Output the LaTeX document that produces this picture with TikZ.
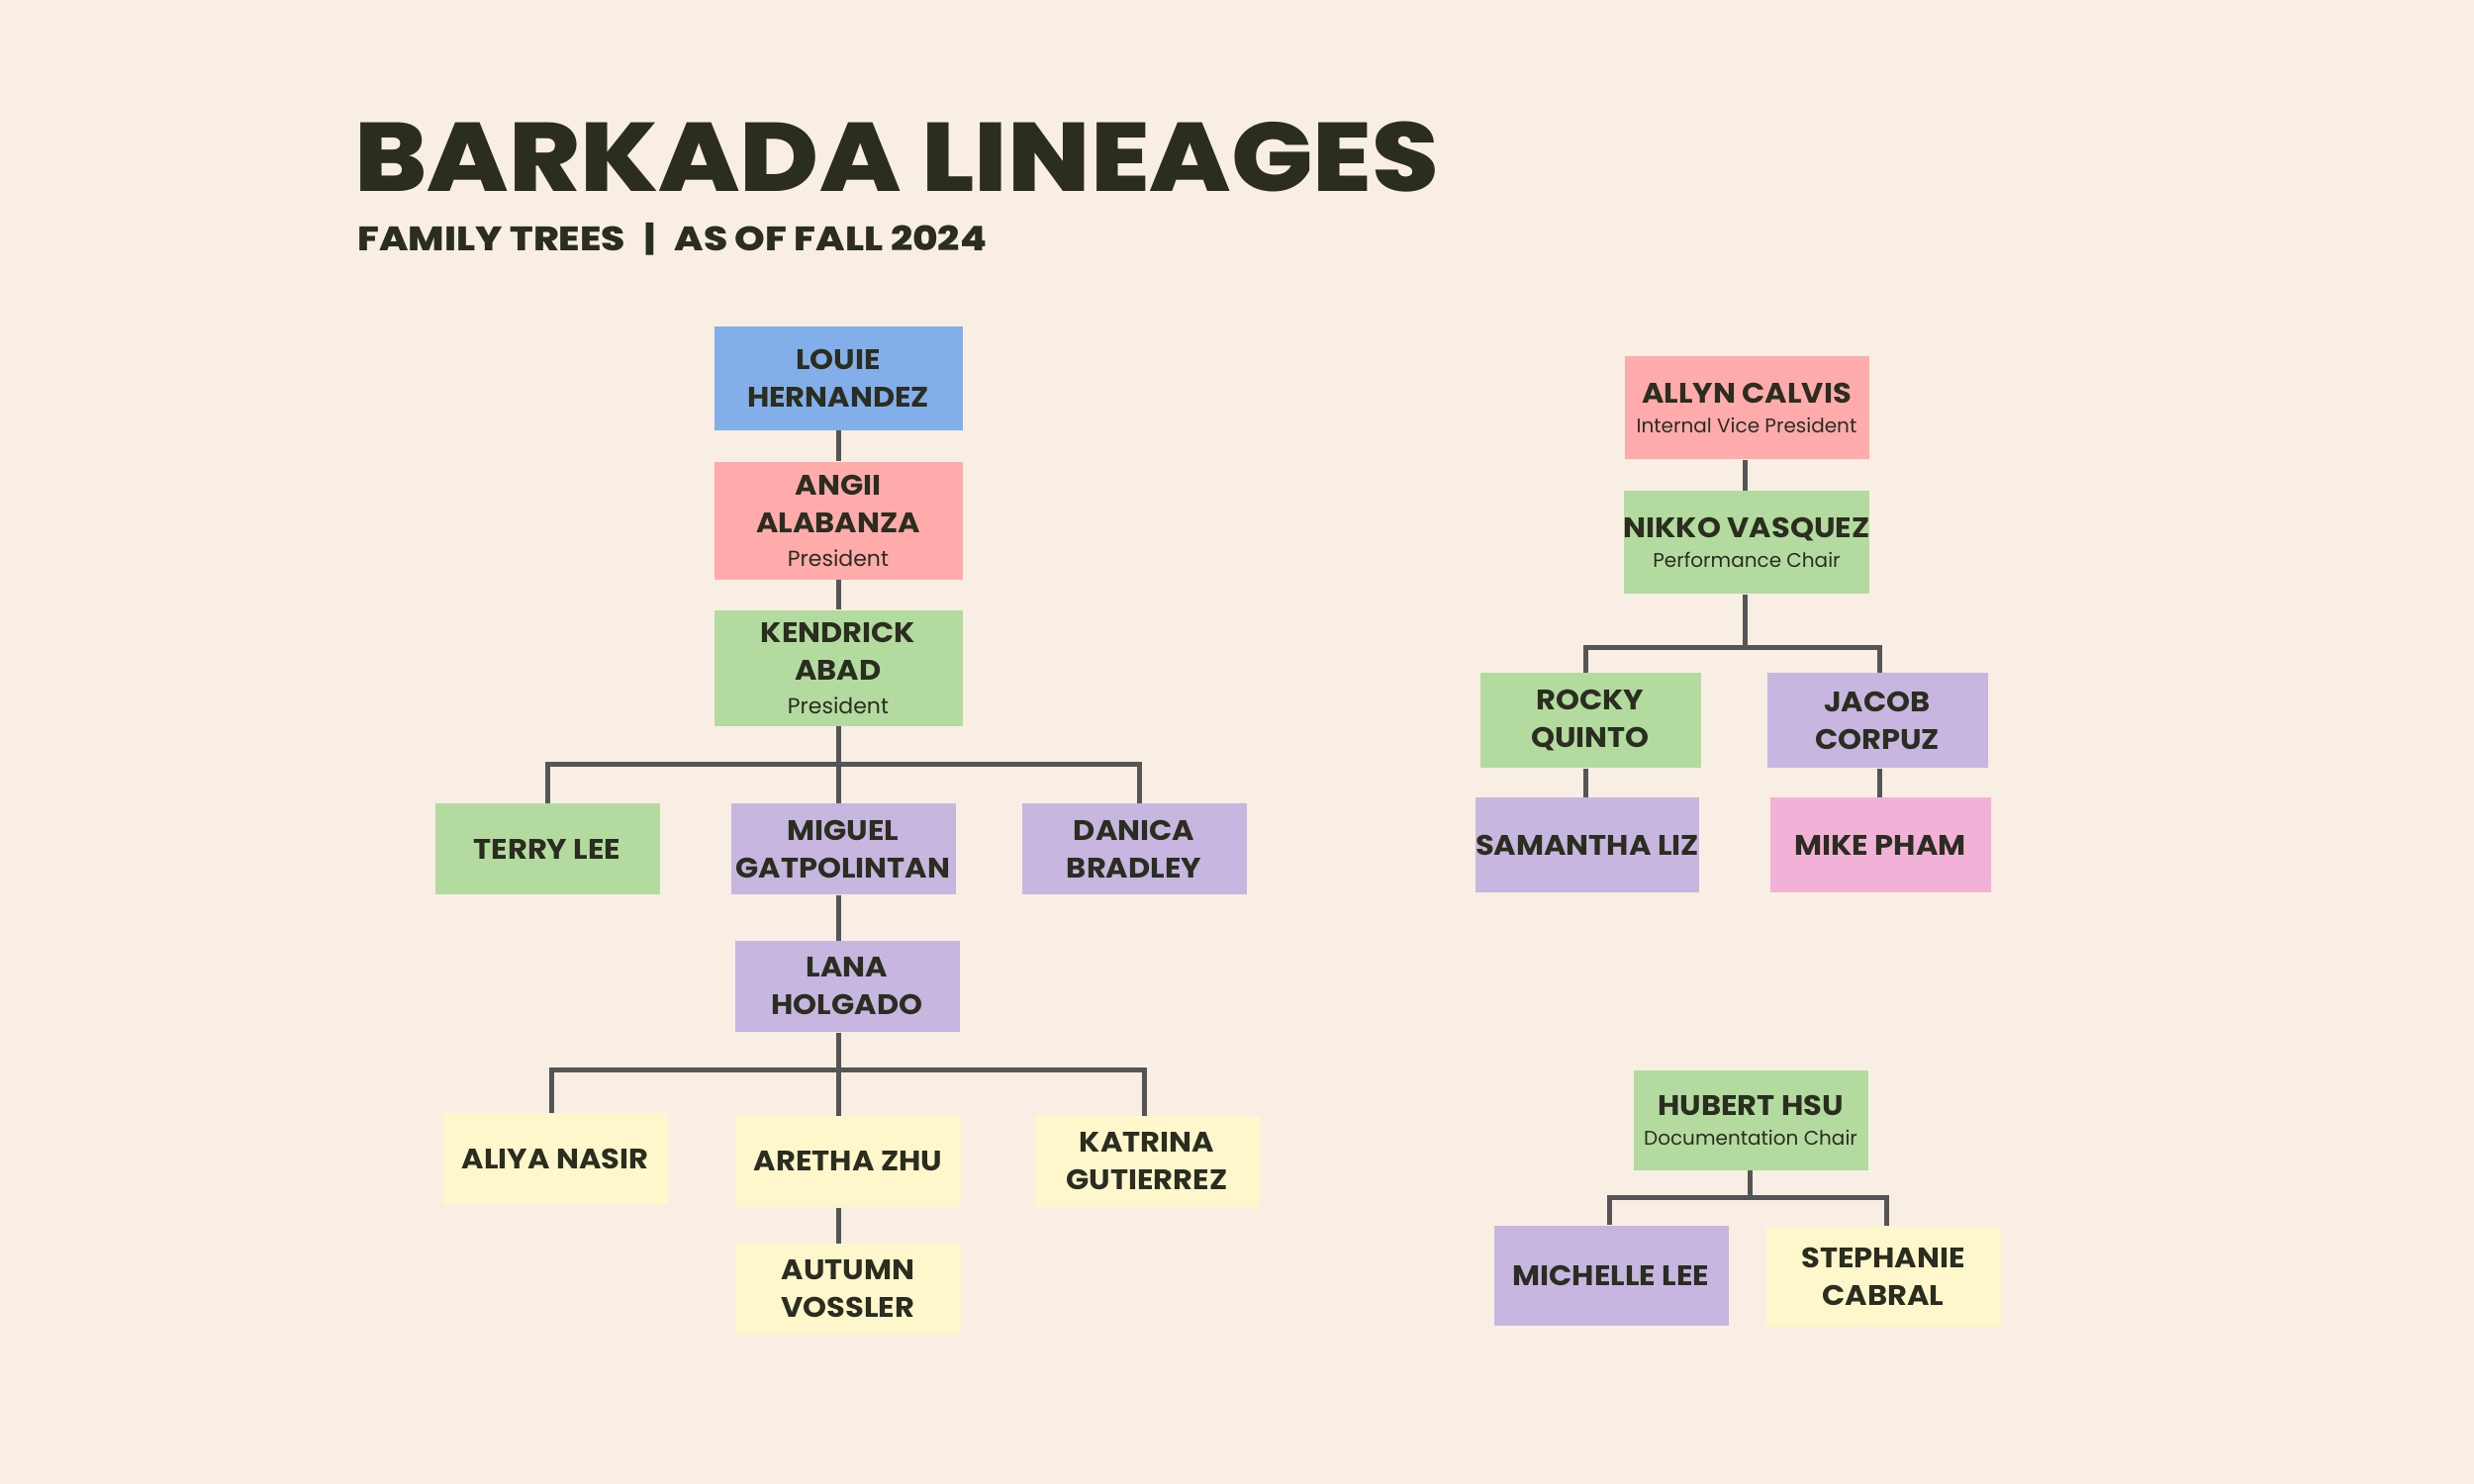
\documentclass[tikz,border=0pt]{standalone}
\usepackage{fontspec}
\setmainfont{Poppins}
\newfontfamily\heavy{Poppins}[UprightFont={* ExtraBold}]
\newfontfamily\boldf{Poppins}[UprightFont={* Bold}, FakeStretch=1.07]
\definecolor{bg}{HTML}{F9EEE3}
\definecolor{ink}{HTML}{2A2D1F}
\definecolor{cblue}{HTML}{82AFEA}
\definecolor{cred}{HTML}{FFABAB}
\definecolor{cgreen}{HTML}{B3DBA0}
\definecolor{cpurple}{HTML}{C6B6E0}
\definecolor{cyellow}{HTML}{FFF7CC}
\definecolor{cpink}{HTML}{F2B1D7}
\definecolor{cline}{HTML}{555555}
\tikzset{
  person/.style={rectangle, inner sep=0pt, align=center, text=ink,
    font=\boldf\fontsize{11.4}{15.2}\selectfont},
  wide/.style={person, minimum width=251*0.4pt, minimum height=105*0.4pt},
  std/.style={person, minimum width=227*0.4pt, minimum height=92*0.4pt},
  rbig/.style={person, minimum width=247*0.4pt, minimum height=104*0.4pt},
  rstd/.style={person, minimum width=223*0.4pt, minimum height=96*0.4pt},
  rlow/.style={person, minimum width=237*0.4pt, minimum height=101*0.4pt},
  conn/.style={draw=cline, line width=2pt},
}
\newcommand{\role}[1]{{\normalfont\fontsize{8.8}{10}\selectfont #1}}
\newcommand{\rrole}[1]{{\normalfont\fontsize{8.0}{10}\selectfont #1}}
\begin{document}
\begin{tikzpicture}[x=0.4pt, y=-0.4pt]
\fill[bg] (0,0) rectangle (2500,1500);
\useasboundingbox (0,0) rectangle (2500,1500);

% titles
\node[anchor=base west, inner sep=0, text=ink, font=\heavy\fontsize{39.4}{40}\selectfont] (title) at (358,193) {\scalebox{1.108}[1]{BARKADA LINEAGES}};
\node[anchor=base west, inner sep=0, text=ink, font=\heavy\fontsize{13.7}{15}\selectfont] (subtitle) at (361,253) {\scalebox{1.14}[1]{FAMILY TREES\hspace{0.5em}|\hspace{0.5em}AS OF FALL 2024}};

% left tree
\node[wide, fill=cblue] (louie) at (847,382) {LOUIE\\HERNANDEZ};
\node[wide, fill=cred, minimum height=119*0.4pt] (angii) at (847,526) {ANGII\\ALABANZA\\[-1.6pt]\role{President}};
\node[wide, fill=cgreen, minimum height=117*0.4pt] (kendrick) at (847,675) {KENDRICK\\ABAD\\[-1.6pt]\role{President}};
\node[std, fill=cgreen] (terry) at (553,858) {TERRY LEE};
\node[std, fill=cpurple] (miguel) at (852,858) {MIGUEL\\GATPOLINTAN};
\node[std, fill=cpurple] (danica) at (1146,858) {DANICA\\BRADLEY};
\node[std, fill=cpurple] (lana) at (856,997) {LANA\\HOLGADO};
\node[std, fill=cyellow] (aliya) at (561,1171) {ALIYA NASIR};
\node[std, fill=cyellow] (aretha) at (857,1174) {ARETHA ZHU};
\node[std, fill=cyellow] (katrina) at (1159,1174) {KATRINA\\GUTIERREZ};
\node[std, fill=cyellow] (autumn) at (857,1303) {AUTUMN\\VOSSLER};

\coordinate (b1) at (847,772);
\coordinate (b2) at (847,1081);
\draw[conn] (louie.south) -- (angii.north);
\draw[conn] (angii.south) -- (kendrick.north);
\draw[conn] (kendrick.south) -- (b1);
\draw[conn] (terry.north -| 553,0) |- (b1) -| (danica.north -| 1151,0);
\draw[conn] (b1) -- (b1 |- miguel.north);
\draw[conn] (b1 |- miguel.south) -- (b1 |- lana.north);
\draw[conn] (b1 |- lana.south) -- (b2);
\draw[conn] (aliya.north -| 557,0) |- (b2) -| (katrina.north -| 1156,0);
\draw[conn] (b2) -- (b2 |- aretha.north);
\draw[conn] (b2 |- aretha.south) -- (b2 |- autumn.north);

% right tree 1
\node[rbig, fill=cred] (allyn) at (1765,412) {ALLYN CALVIS\\[-3.2pt]\rrole{Internal Vice President}};
\node[rbig, fill=cgreen] (nikko) at (1765,548) {NIKKO VASQUEZ\\[-3.2pt]\rrole{Performance Chair}};
\node[rstd, fill=cgreen] (rocky) at (1607,728) {ROCKY\\QUINTO};
\node[rstd, fill=cpurple] (jacob) at (1897,728) {JACOB\\CORPUZ};
\node[rstd, fill=cpurple] (samantha) at (1604,854) {SAMANTHA LIZ};
\node[rstd, fill=cpink] (mike) at (1900,854) {MIKE PHAM};

\coordinate (b3) at (1763,654);
\draw[conn] (allyn.south -| b3) -- (nikko.north -| b3);
\draw[conn] (nikko.south -| b3) -- (b3);
\draw[conn] (rocky.north -| 1602,0) |- (b3) -| (jacob.north -| 1899,0);
\draw[conn] (rocky.south -| 1602,0) -- (samantha.north -| 1602,0);
\draw[conn] (jacob.south -| 1899,0) -- (mike.north -| 1899,0);

% right tree 2
\node[rlow, fill=cgreen] (hubert) at (1769,1132) {HUBERT HSU\\[-3.2pt]\rrole{Documentation Chair}};
\node[rlow, fill=cpurple] (michelle) at (1628,1289) {MICHELLE LEE};
\node[rlow, fill=cyellow] (stephanie) at (1903,1290) {STEPHANIE\\CABRAL};

\coordinate (b4) at (1768,1210);
\draw[conn] (hubert.south -| b4) -- (b4);
\draw[conn] (michelle.north -| 1626,0) |- (b4) -| (stephanie.north -| 1906,0);
\end{tikzpicture}
\end{document}
